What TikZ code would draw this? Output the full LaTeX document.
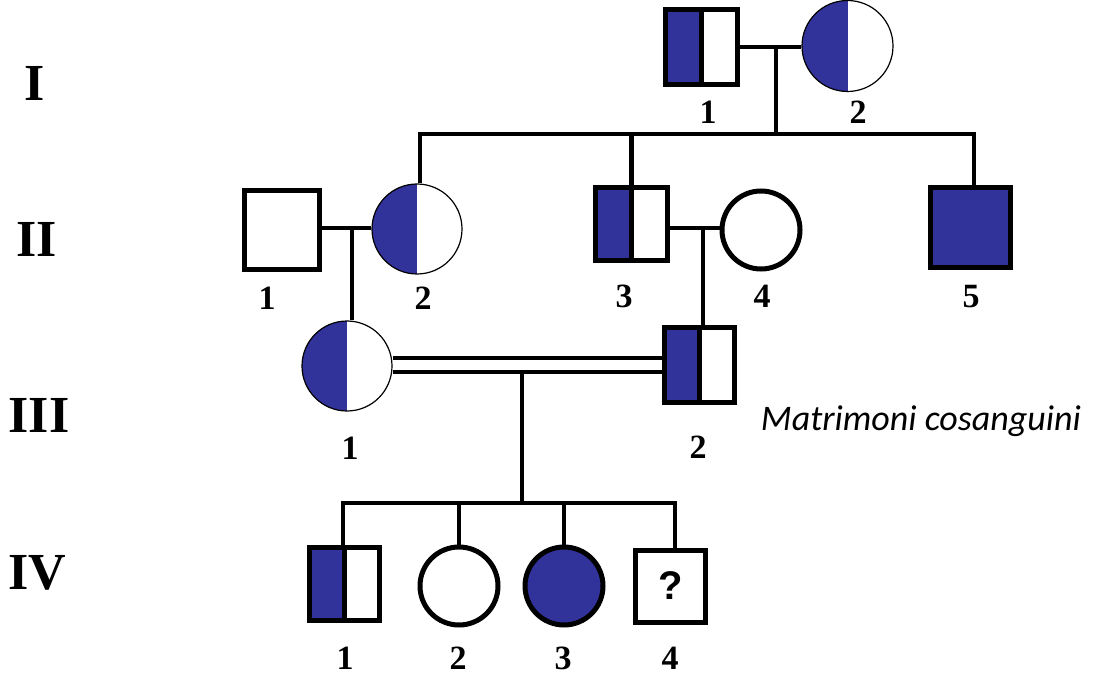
\documentclass[tikz,border=0pt]{standalone}
\usepackage{fontspec}
\setmainfont{Liberation Serif}
\newfontfamily\calibf{Carlito}
\newfontfamily\arialf{Liberation Sans}
\definecolor{aff}{RGB}{50,50,155}
\begin{document}
\begin{tikzpicture}[x=1pt,y=-1pt,
  sq/.style={draw, line width=5pt, inner sep=0pt, fill=white},
  carsq/.style={sq, path picture={
      \fill[aff] (path picture bounding box.south west) rectangle (path picture bounding box.north);
      \draw[line width=5pt] (path picture bounding box.south) -- (path picture bounding box.north);}},
  circ/.style={circle, draw, inner sep=0pt, fill=white},
  carcirc/.style={circ, line width=1.2pt, path picture={
      \fill[aff] (path picture bounding box.south west) rectangle (path picture bounding box.north);}},
  conn/.style={line width=4.5pt},
  dbl/.style={line width=4pt, double=white, double distance=10pt},
  lab/.style={font=\bfseries\fontsize{34}{34}\selectfont, inner sep=0pt},
  gen/.style={font=\bfseries\fontsize{52}{52}\selectfont, inner sep=0pt}]
\useasboundingbox[fill=white] (0,0) rectangle (1095,676);

% generation labels
\node[gen] (gI) at (35,83) {I};
\node[gen] (gII) at (37,239) {II};
\node[gen] (gIII) at (39,415) {III};
\node[gen] (gIV) at (37,573) {IV};

% generation I
\node[carsq, minimum width=72pt, minimum height=75pt] (I1) at (701.5,47) {};
\node[carcirc, minimum size=91pt] (I2) at (847.5,46) {};
% generation II
\node[sq, minimum width=75pt, minimum height=79pt] (II1) at (282,230) {};
\node[carcirc, minimum size=90pt] (II2) at (417,229) {};
\node[carsq, minimum width=72pt, minimum height=73pt] (II3) at (631.5,224) {};
\node[circ, line width=5pt, minimum size=78pt] (II4) at (761,230) {};
\node[sq, fill=aff, minimum width=80pt, minimum height=80pt] (II5) at (970,228) {};
% generation III
\node[carcirc, minimum size=90pt] (III1) at (347,366) {};
\node[carsq, minimum width=70pt, minimum height=75pt] (III2) at (699.5,365) {};
% generation IV
\node[carsq, minimum width=70pt, minimum height=73pt] (IV1) at (344.5,584) {};
\node[circ, line width=5pt, minimum size=78pt] (IV2) at (459,586) {};
\node[circ, line width=5pt, fill=aff, minimum size=78pt] (IV3) at (564,586) {};
\node[sq, minimum width=70pt, minimum height=72pt, font=\arialf\bfseries\fontsize{40}{40}\selectfont] (IV4) at (670.5,586) {?};

% numbers
\node[lab] (nI1) at (708,112) {1};
\node[lab] (nI2) at (858,112) {2};
\node[lab] (nII1) at (267,298) {1};
\node[lab] (nII2) at (423,298) {2};
\node[lab] (nII3) at (624,296) {3};
\node[lab] (nII4) at (762,296) {4};
\node[lab] (nII5) at (971,297) {5};
\node[lab] (nIII1) at (350,448) {1};
\node[lab] (nIII2) at (698,447) {2};
\node[lab] (nIV1) at (345,658) {1};
\node[lab] (nIV2) at (458,658) {2};
\node[lab] (nIV3) at (563,658) {3};
\node[lab] (nIV4) at (670,658) {4};

\node[font=\calibf\itshape\fontsize{36}{36}\selectfont, anchor=base, inner sep=0pt] (note) at (921,430) {Matrimoni cosanguini};

% junction coordinates
\coordinate (mI) at (776,47);
\coordinate (sI) at (776,134);
\coordinate (sIIl) at (420,134);
\coordinate (sIIr) at (974,134);
\coordinate (mII) at (352,228);
\coordinate (mII2) at (703,228);
\coordinate (cIII) at (522,365);
\coordinate (dIII) at (522,372);
\coordinate (sIV) at (522,503);
\coordinate (sIVl) at (343,503);
\coordinate (sIVr) at (675,503);

% connectors generation I
\draw[conn] (I1.east |- mI) -- (I2.west |- mI);
\draw[conn] (mI) -- (sI);
\draw[conn] (sIIl |- II2.north) -- (sIIl) -- (sIIr) -- (sIIr |- II5.north);
\draw[conn] (II3.north |- sIIl) -- (II3.north);
% generation II marriages
\draw[conn] (II1.east |- mII) -- (II2.west |- mII);
\draw[conn] (mII) -- (mII |- III1.north);
\draw[conn] (II3.east |- mII2) -- (II4.west |- mII2);
\draw[conn] (mII2) -- (mII2 |- III2.north);
% consanguineous marriage
\draw[dbl] (III1.east |- cIII) -- (III2.west |- cIII);
\draw[conn] (dIII) -- (sIV);
\draw[conn] (sIVl |- IV1.north) -- (sIVl) -- (sIVr) -- (sIVr |- IV4.north);
\draw[conn] (IV2.north |- sIV) -- (IV2.north);
\draw[conn] (IV3.north |- sIV) -- (IV3.north);
\end{tikzpicture}
\end{document}
